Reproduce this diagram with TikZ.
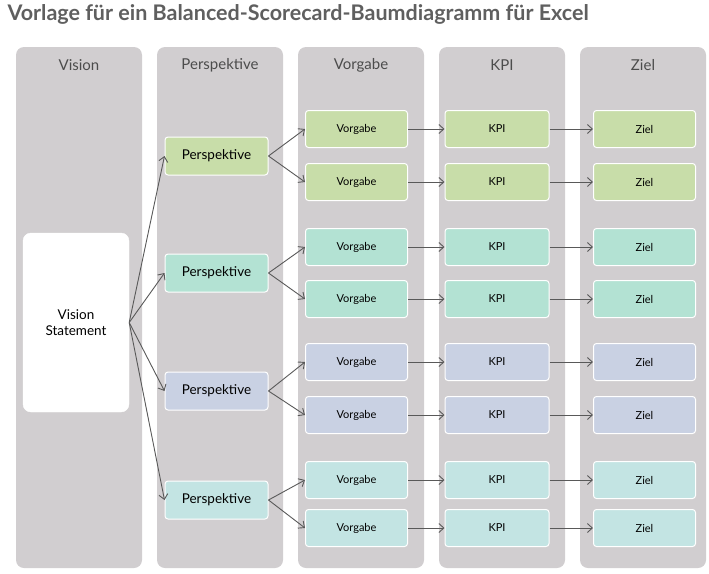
\documentclass[tikz,border=0pt]{standalone}
\usepackage{fontspec}
\setmainfont{Lato}
\usetikzlibrary{arrows.meta}
\definecolor{colg}{HTML}{D1CED0}
\definecolor{cA}{HTML}{C8DDA9}
\definecolor{cB}{HTML}{B3E2D3}
\definecolor{cC}{HTML}{C9D1E3}
\definecolor{cD}{HTML}{C3E4E3}
\definecolor{tgray}{HTML}{5F5F5F}
\begin{document}
\begin{tikzpicture}[x=1pt,y=-1pt,
 col/.style={fill=colg,rounded corners=8pt,draw=none},
 hdr/.style={font=\fontsize{15}{18}\selectfont,text=tgray!80!black},
 pbox/.style={draw=white,line width=1pt,rounded corners=3pt,minimum width=103pt,minimum height=38pt,font=\fontsize{13.5}{16}\selectfont},
 sbox/.style={draw=white,line width=1pt,rounded corners=3pt,minimum width=102pt,minimum height=37pt,font=\fontsize{11}{13}\selectfont},
 arr/.style={-{Straight Barb[length=5pt,width=9pt]},draw=black!65,line width=0.9pt}]
\useasboundingbox (0,0) rectangle (709,573);
\node[anchor=west,font=\bfseries\fontsize{21.5}{25}\selectfont,text=tgray] (title) at (4,14) {Vorlage für ein Balanced-Scorecard-Baumdiagramm für Excel};
\foreach \x/\t [count=\i] in {16/Vision,157/Perspektive,298/Vorgabe,439/KPI,580/Ziel}{
  \fill[col] (\x,47) rectangle (\x+126,568);
  \node[hdr] (h\i) at (\x+63,65) {\t};
}
\node[draw=white,fill=white,rounded corners=8pt,minimum width=106pt,minimum height=179pt,align=center,font=\fontsize{13.5}{16}\selectfont] (vs) at (76,322.5) {Vision\\Statement};
\foreach \y/\c [count=\i] in {156/cA,273/cB,391/cC,500/cD}{
  \node[pbox,fill=\c] (p\i) at (216.5,\y) {Perspektive};
  \draw[arr] (vs.east) -- (p\i.west);
}
\foreach \y/\c/\p [count=\i] in {129/cA/1,182/cA/1,247/cB/2,299/cB/2,362/cC/3,415/cC/3,480/cD/4,528/cD/4}{
  \node[sbox,fill=\c] (v\i) at (356.5,\y) {Vorgabe};
  \node[sbox,fill=\c,minimum width=104pt] (k\i) at (497,\y) {KPI};
  \node[sbox,fill=\c] (z\i) at (644.5,\y) {Ziel};
  \draw[arr] (p\p.east) -- (v\i.west);
  \draw[arr] (v\i.east) -- (k\i.west);
  \draw[arr] (k\i.east) -- (z\i.west);
}
\end{tikzpicture}
\end{document}
